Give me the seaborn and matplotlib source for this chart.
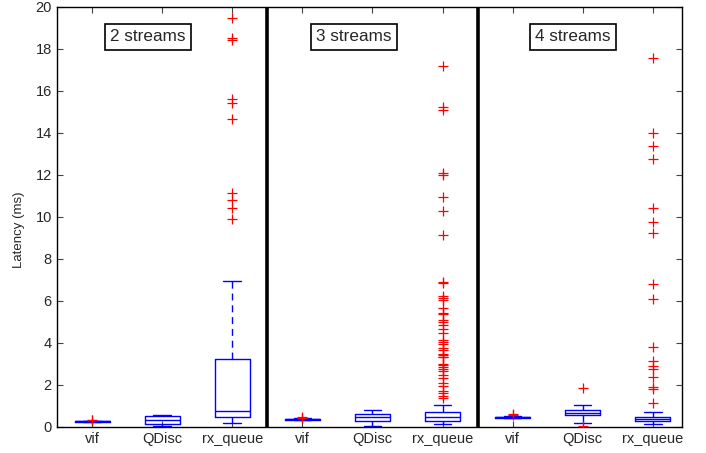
import numpy as np
import pandas as pd
import matplotlib
matplotlib.use("Agg")
import matplotlib.pyplot as plt
import seaborn as sns

# ---- data (latency, ms) ----
panels = ["2 streams", "3 streams", "4 streams"]
groups = ["vif", "QDisc", "rx_queue"]

# five-number summaries, order: 2s vif, 2s QDisc, 2s rx_queue, 3s ..., 4s ...
whislo = [0.21, 0.03, 0.16, 0.30, 0.05, 0.14, 0.40, 0.19, 0.14]
q1     = [0.24, 0.15, 0.45, 0.33, 0.29, 0.27, 0.43, 0.54, 0.27]
med    = [0.26, 0.33, 0.73, 0.35, 0.45, 0.48, 0.45, 0.67, 0.38]
q3     = [0.27, 0.50, 3.22, 0.37, 0.60, 0.68, 0.47, 0.78, 0.48]
whishi = [0.29, 0.55, 6.94, 0.40, 0.78, 1.05, 0.50, 1.05, 0.72]

out_vif_2 = [0.30, 0.32]
out_qdisc_2 = []
out_rx_2 = [19.48, 18.49, 18.41, 15.6, 15.43, 14.65, 11.11, 10.78, 10.41, 9.9]
out_vif_3 = [0.43, 0.45]
out_qdisc_3 = []
out_rx_3 = [17.2, 15.2, 15.1, 12.07, 11.97, 10.92, 10.27, 9.11, 6.9, 6.86,
            6.2, 6.15, 6.03, 5.64, 5.43, 5.35, 5.1, 4.97, 4.84, 4.65, 4.45,
            4.13, 4.02, 3.95, 3.73, 3.65, 3.45, 3.41, 3.33, 3.3, 2.99, 2.93,
            2.86, 2.75, 2.67, 2.46, 2.3, 2.1, 1.95, 1.71, 1.59, 1.45, 1.35]
out_vif_4 = [0.55, 0.59]
out_qdisc_4 = [1.83, 0.05]
out_rx_4 = [17.54, 14.0, 13.37, 12.76, 10.43, 9.73, 9.21, 6.78, 6.08, 3.78,
            3.13, 2.9, 2.75, 2.38, 1.88, 1.78, 1.14]

outliers = [out_vif_2, out_qdisc_2, out_rx_2,
            out_vif_3, out_qdisc_3, out_rx_3,
            out_vif_4, out_qdisc_4, out_rx_4]

# ---- build tables ----
keys = [f"{p}|{g}" for p in panels for g in groups]
rows = []
for i, k in enumerate(keys):
    for v in (whislo[i], q1[i], med[i], q3[i], whishi[i]):
        rows.append({"group": k, "latency": v})
box_df = pd.DataFrame(rows)

orows = []
for i, vals in enumerate(outliers):
    for v in vals:
        orows.append({"pos": i, "latency": v})
out_df = pd.DataFrame(orows)

# ---- style ----
sns.set_style("ticks")
plt.rcParams["font.family"] = ["Liberation Sans", "DejaVu Sans"]
plt.rcParams["xtick.direction"] = "in"
plt.rcParams["ytick.direction"] = "in"

fig = plt.figure(figsize=(7.06, 4.53), dpi=100)
ax = fig.add_axes([0.0812, 0.0581, 0.8852, 0.9271])

sns.boxplot(data=box_df, x="group", y="latency", order=keys, ax=ax,
            fill=False, color="#0000ff", linewidth=1.0, width=0.5,
            whis=(0, 100), showfliers=False,
            whiskerprops={"linestyle": (0, (5, 3.5))},
            capwidths=0.25)

sns.scatterplot(data=out_df, x="pos", y="latency", ax=ax, marker="+",
                color="#ff0000", s=48, linewidth=0.9, legend=False, zorder=3)

for xsep in (2.5, 5.5):
    ax.axvline(xsep, color="black", lw=2.6, zorder=4)

text_x = [0.8, 3.74, 6.86]
for tx, lab in zip(text_x, panels):
    ax.text(tx, 18.56, lab, ha="center", va="center", fontsize=12.3,
            bbox=dict(boxstyle="square,pad=0.3", fc="white", ec="black", lw=1.2),
            zorder=5)

ax.set_xlim(-0.495, 8.42)
ax.set_ylim(0, 20)
ax.set_yticks(np.arange(0, 21, 2))
ax.set_xticks(range(len(keys)))
ax.set_xticklabels(groups * 3, fontsize=10.5)
ax.tick_params(axis="y", labelsize=10.5)
ax.tick_params(axis="both", which="both", top=True, right=True, length=4,
               width=0.8, color="#444444", pad=4)
ax.set_xlabel("")
ax.set_ylabel("Latency (ms)", fontsize=9.5)
ax.yaxis.set_label_coords(-0.052, 0.47)
for s in ax.spines.values():
    s.set_visible(True)
    s.set_color("black")
    s.set_linewidth(1.0)

fig.savefig("out.png", dpi=100)
